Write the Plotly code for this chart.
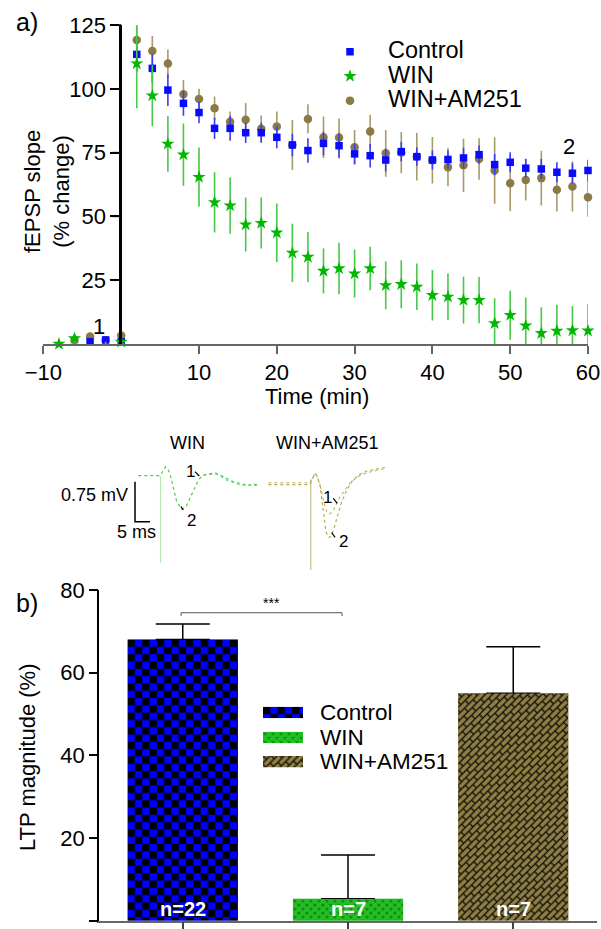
import base64
import plotly.graph_objects as go

W, H = 601, 929
FONT = "Liberation Sans, Arial, sans-serif"

# ---------------- data: panel a ----------------
time_min = [-8, -6, -4, -2, 0, 2, 4, 6, 8, 10, 12, 14, 16, 18, 20, 22, 24, 26, 28, 30,
            32, 34, 36, 38, 40, 42, 44, 46, 48, 50, 52, 54, 56, 58, 60]
control_mean = [-1.7, -1.7, 0.9, 1.6, 0.9,
                113.5, 108, 99.5, 94.3, 90.7, 84.5, 84.5, 82.8, 82.8, 81, 78,
                75.8, 78.6, 77.7, 74.5, 73.8, 72.1, 75.4, 73.4, 72.1, 72.3, 72.9, 74.2,
                70.3, 71.2, 68.9, 68.6, 67.3, 66.9, 68]
control_err = [1, 1, 1, 1, 1,
               6.8, 5.5, 6.2, 4.9, 4.2, 4.2, 4.9, 4, 3.9, 4.3, 4.4,
               4.8, 4.6, 4.9, 4.1, 4.6, 4.5, 3.9, 3.6, 3.7, 3.5, 4, 3.6,
               4.2, 3.9, 3.7, 3.9, 3.9, 3.9, 4.2]
win_mean = [0, 2.2, -1.7, -0.6, 0.8,
            109.9, 97.3, 78.4, 74.2, 65.4, 55.5, 54.2, 46.8, 47.4, 43.6, 35.7,
            34.1, 28.6, 29.6, 27.6, 29.6, 23, 23.4, 22.4, 19.1, 18.5, 17.2, 17.2,
            8.1, 11.3, 7.2, 4.2, 5.1, 5.3, 5.2]
win_err = [1.5, 1.5, 1.5, 1.5, 1.5,
           17.5, 12, 10.9, 12.2, 11.6, 11.8, 11, 10.6, 10, 11.5, 11.4,
           9.8, 8.8, 10.1, 9.4, 8.5, 9.4, 9.4, 9.1, 9.9, 9.1, 9.2, 9.1,
           9.8, 9.6, 11, 10.2, 10.3, 9.6, 10.5]
am_mean = [-0.5, 1.6, 2.9, 1.5, 3.3,
           119.1, 114.8, 109.9, 97.9, 96, 92.4, 87.1, 87.9, 84.3, 85.2, 78,
           88.2, 81, 80.9, 77.1, 83.3, 74.7, 75, 73.4, 72, 69.3, 70, 72.5,
           68, 63, 64.3, 65, 60.4, 61.7, 57.5]
am_err = [1, 1, 1.5, 1, 1.5,
          5, 5.9, 5.5, 5.5, 4, 4.6, 4, 6.5, 5.2, 5.9, 9.8,
          5.7, 8.1, 7.5, 6.8, 6.5, 9.2, 8.1, 9.3, 9.1, 7.5, 10.4, 8.1,
          13, 11, 8.1, 10.7, 8.5, 9.8, 7.6]
x_ticks_a = [-10, 10, 20, 30, 40, 50, 60]
y_ticks_a = [25, 50, 75, 100, 125]
y_range_a = [0, 125]

# ---------------- data: inset traces (ms, mV) ----------------
win_t = [12.77, 20.0, 21.9, 22.77, 23.57, 24.43, 25.57, 27.23, 28.67, 30.0, 31.43, 32.77,
         34.43, 36.67, 38.33, 40.0, 42.23, 44.43, 46.67, 48.9, 51.1, 52.77]
win_v = [1.956, 1.956, 2.124, 2.062, 1.938, 1.719, 1.468, 1.326, 1.374, 1.532, 1.719, 1.875,
         1.969, 1.988, 2.012, 1.969, 1.907, 1.843, 1.813, 1.763, 1.80, 1.781]
win_t2 = [34.43, 36.67, 38.33, 40.0, 42.23, 44.43, 46.67, 48.9, 51.1, 52.77]
win_v2 = [1.96, 1.97, 1.99, 1.95, 1.87, 1.83, 1.78, 1.80, 1.76, 1.79]
win_art_t = [20.17, 20.17]
win_art_v = [1.95, 0.32]
am1_t = [56.1, 70.0, 71.67, 72.43, 73.33, 74.43, 75.57, 76.43, 77.57, 78.67, 80.0, 81.67,
         83.33, 85.57, 87.77, 91.1, 95.33]
am1_v = [1.824, 1.824, 2.0, 1.938, 1.781, 1.5, 1.281, 1.238, 1.281, 1.406, 1.562, 1.688,
         1.813, 1.926, 1.988, 2.044, 2.094]
am2_t = [56.1, 70.0, 71.67, 72.43, 73.33, 73.9, 74.67, 75.33, 76.1, 77.0, 78.0, 79.1, 80.57,
         82.0, 83.9, 86.1, 88.9, 92.23, 95.33]
am2_v = [1.79, 1.79, 2.0, 1.938, 1.781, 1.562, 1.187, 0.906, 0.801, 0.812, 0.969, 1.187, 1.468,
         1.656, 1.843, 1.969, 2.044, 2.081, 2.113]
am_art_t = [70.23, 70.23]
am_art_v = [1.88, 0.19]
scale_ms = 5
scale_mv = 0.75
scale_t0 = 11.67
scale_v0 = 1.093

# ---------------- data: panel b ----------------
groups = ["Control", "WIN", "WIN+AM251"]
ltp_mean = [68.0, 5.3, 55.0]
ltp_sem = [3.8, 10.6, 11.3]
n_cells = [22, 7, 7]
y_ticks_b = [0, 20, 40, 60, 80]

# ---------------- styling ----------------
BLUE = "#0a0aff"
GREEN = "#00b800"
BROWN = "#8a7a45"
BAR_W = 0.667
YAX_A_X = 121.2          # pixel x where the panel-a y axis sits (time = 0)
A_Y0, A_Y1 = 344.0, 25.0  # pixel y of panel-a y-range bottom/top


def px(x):
    return x / W


def py(y):
    return 1 - y / H


def a_val_to_paper(v):
    frac = (v - y_range_a[0]) / (y_range_a[1] - y_range_a[0])
    return py(A_Y0) + frac * (py(A_Y1) - py(A_Y0))


# pixel geometry of panel b (for texture image sizes)
B_X0, B_X1, B_XR = 99.3, 596.7, (-0.505, 2.505)
B_Y0, B_Y1 = 920.7, 590.0
PX_PER_CAT = (B_X1 - B_X0) / (B_XR[1] - B_XR[0])
PX_PER_PCT = (B_Y0 - B_Y1) / 80.0


def texture_uri(kind, w, h):
    if kind == 0:
        pat = ('<pattern id="p" width="14.6" height="14.6" patternUnits="userSpaceOnUse">'
               '<rect width="14.6" height="14.6" fill="#0000ff"/>'
               '<rect width="7.3" height="7.3" fill="#000"/>'
               '<rect x="7.3" y="7.3" width="7.3" height="7.3" fill="#000"/></pattern>')
    elif kind == 1:
        pat = ('<pattern id="p" width="8" height="8" patternUnits="userSpaceOnUse">'
               '<rect width="8" height="8" fill="#1ec41e"/>'
               '<path d="M0.6,1 L2,3.3 L3.4,1 M4.6,5 L6,7.3 L7.4,5" stroke="#2d5a2d" '
               'stroke-width="0.9" fill="none"/></pattern>')
    else:
        pat = ('<pattern id="p" width="12" height="10" patternUnits="userSpaceOnUse" '
               'patternTransform="rotate(-45)">'
               '<rect width="12" height="10" fill="#141208"/>'
               '<rect x="0.7" y="0.7" width="10.6" height="3.6" fill="#8f7f45"/>'
               '<rect x="6.7" y="5.7" width="10.6" height="3.6" fill="#8f7f45"/>'
               '<rect x="-5.3" y="5.7" width="10.6" height="3.6" fill="#8f7f45"/></pattern>')
    svg = (f'<svg xmlns="http://www.w3.org/2000/svg" width="{w:.1f}" height="{h:.1f}" '
           f'viewBox="0 0 {w:.1f} {h:.1f}" preserveAspectRatio="none"><defs>{pat}</defs>'
           f'<rect width="{w:.1f}" height="{h:.1f}" fill="url(#p)"/></svg>')
    return "data:image/svg+xml;base64," + base64.b64encode(svg.encode()).decode()


fig = go.Figure()

# ---- panel a traces ----
def lname(s):
    return f'<span style="font-size:23.5px">{s}</span>'

fig.add_trace(go.Scatter(
    x=time_min, y=am_mean, mode="markers", name=lname("WIN+AM251"), legendrank=3,
    marker=dict(symbol="circle", size=8.5, color=BROWN),
    error_y=dict(type="data", array=am_err, color="#a8996a", thickness=1.6, width=0),
    cliponaxis=False, xaxis="x", yaxis="y"))
fig.add_trace(go.Scatter(
    x=time_min, y=control_mean, mode="markers", name=lname("Control"), legendrank=1,
    marker=dict(symbol="square", size=7.5, color=BLUE),
    error_y=dict(type="data", array=control_err, color="#3d3df0", thickness=1.6, width=0),
    cliponaxis=False, xaxis="x", yaxis="y"))
fig.add_trace(go.Scatter(
    x=time_min, y=win_mean, mode="markers", name=lname("WIN"), legendrank=2,
    marker=dict(symbol="star", size=10, color=GREEN),
    error_y=dict(type="data", array=win_err, color="#48c848", thickness=1.6, width=0),
    cliponaxis=False, xaxis="x", yaxis="y"))
# empty helper trace so the y-axis labels can sit at time = 0 (anchor axis x4)
fig.add_trace(go.Scatter(x=[None], y=[None], xaxis="x4", yaxis="y", showlegend=False,
                         hoverinfo="skip"))

# ---- inset traces ----
inset_line = dict(xaxis="x3", yaxis="y3", mode="lines", showlegend=False, hoverinfo="skip")
fig.add_trace(go.Scatter(x=win_art_t, y=win_art_v, line=dict(color="#b5eab5", width=1.2), **inset_line))
fig.add_trace(go.Scatter(x=win_t2, y=win_v2, line=dict(color="#74d874", width=1.1, dash="dot"), **inset_line))
fig.add_trace(go.Scatter(x=win_t, y=win_v, line=dict(color="#4ccb4c", width=1.2, dash="dot"), **inset_line))
fig.add_trace(go.Scatter(x=am_art_t, y=am_art_v, line=dict(color="#cdc79c", width=1.4), **inset_line))
fig.add_trace(go.Scatter(x=am1_t, y=am1_v, line=dict(color="#bdb56a", width=1.1, dash="dot"), **inset_line))
fig.add_trace(go.Scatter(x=am2_t, y=am2_v, line=dict(color="#b3ab55", width=1.2, dash="dot"), **inset_line))
fig.add_trace(go.Scatter(x=[scale_t0, scale_t0, scale_t0 + scale_ms],
                         y=[scale_v0 + scale_mv, scale_v0, scale_v0],
                         line=dict(color="black", width=1.5), **inset_line))

# ---- panel b bars ----
bar_x = list(range(len(groups)))
fig.add_trace(go.Bar(
    x=bar_x, y=ltp_mean, width=BAR_W, marker=dict(color=["#0000c0", "#1ec41e", "#8f7f45"], line=dict(width=0)),
    error_y=dict(type="data", array=ltp_sem, arrayminus=[0] * len(groups), symmetric=False,
                 color="black", thickness=1.5, width=27),
    showlegend=False, xaxis="x2", yaxis="y2", hoverinfo="skip"))

images = []
for i, v in enumerate(ltp_mean):
    images.append(dict(source=texture_uri(i, BAR_W * PX_PER_CAT, v * PX_PER_PCT),
                       xref="x2", yref="y2", x=bar_x[i] - BAR_W / 2, y=v,
                       sizex=BAR_W, sizey=v, xanchor="left", yanchor="top",
                       sizing="stretch", layer="above"))
# bar legend swatches
LEG_B_X, LEG_B_W, LEG_B_H = 263, 40, 11.6
LEG_B_Y = [712.5, 737.5, 761.7]
for i, yc in enumerate(LEG_B_Y):
    images.append(dict(source=texture_uri(i, LEG_B_W, LEG_B_H), xref="paper", yref="paper",
                       x=px(LEG_B_X), y=py(yc - LEG_B_H / 2), sizex=LEG_B_W / W, sizey=LEG_B_H / H,
                       xanchor="left", yanchor="top", sizing="stretch", layer="above"))

annotations = []
for i, g in enumerate(groups):
    annotations.append(dict(xref="paper", yref="paper", x=px(318), y=py(LEG_B_Y[i]), text=g,
                            showarrow=False, xanchor="left", yanchor="middle",
                            font=dict(family=FONT, size=22.5, color="black")))
for i, n in enumerate(n_cells):
    annotations.append(dict(xref="x2", yref="y2", x=bar_x[i], y=0, text=f"<b>n={n}</b>",
                            showarrow=False, xanchor="center", yanchor="bottom", yshift=-1,
                            font=dict(family=FONT, size=20, color="white")))

def ann(x, y, text, size=22, xa="center", ya="middle", angle=0):
    annotations.append(dict(xref="paper", yref="paper", x=px(x), y=py(y), text=text,
                            showarrow=False, xanchor=xa, yanchor=ya, textangle=angle,
                            font=dict(family=FONT, size=size, color="black")))

ann(27, 22, "a)", 25)
ann(27, 603, "b)", 25)
ann(47, 192, "fEPSP slope<br>(% change)", 22, angle=-90)
ann(316.7, 397, "Time (min)", 22)
ann(27, 757, "LTP magnitude (%)", 22, angle=-90)
ann(271.7, 603, "***", 14)
# inset labels
ann(187, 443, "WIN", 18)
ann(327, 443, "WIN+AM251", 18)
ann(130, 495, "0.75 mV", 18, xa="right")
ann(136, 532, "5 ms", 18)
ann(190.3, 471, "1", 17)
ann(191.3, 520, "2", 17)
ann(327.8, 497.5, "1", 17)
ann(343.3, 541.7, "2", 17)
# point labels in panel a
annotations.append(dict(xref="x", yref="y", x=-2.9, y=6.8, text="1", showarrow=False,
                        font=dict(family=FONT, size=22, color="black")))
annotations.append(dict(xref="x", yref="y", x=57.6, y=77.5, text="2", showarrow=False,
                        font=dict(family=FONT, size=22, color="black")))

shapes = []
def seg(x0, y0, x1, y1, w=1.2, c="black"):
    shapes.append(dict(type="line", xref="paper", yref="paper", x0=px(x0), y0=py(y0),
                       x1=px(x1), y1=py(y1), line=dict(color=c, width=w)))

seg(195, 471.7, 199.3, 476)
seg(181, 506.7, 183.3, 510)
seg(333.3, 498.3, 337.3, 503.3)
seg(331.7, 532.7, 335, 537.3)
# panel-a y-axis line and tick marks (the axis sits at time = 0)
shapes.append(dict(type="line", xref="paper", yref="paper", x0=px(YAX_A_X), x1=px(YAX_A_X),
                   y0=a_val_to_paper(y_range_a[0]), y1=a_val_to_paper(y_range_a[1]),
                   line=dict(color="black", width=1.5)))
for v in y_ticks_a:
    yy = a_val_to_paper(v)
    shapes.append(dict(type="line", xref="paper", yref="paper", x0=px(YAX_A_X - 9),
                       x1=px(YAX_A_X), y0=yy, y1=yy, line=dict(color="black", width=1.5)))
# significance bracket
shapes.append(dict(type="path", xref="x2", yref="y2",
                   path="M -0.01,73.7 L -0.01,74.5 L 0.964,74.5 L 0.964,73.7",
                   line=dict(color="#555", width=1)))

axis_common = dict(showgrid=False, zeroline=False, automargin=False,
                   tickfont=dict(family=FONT, size=22, color="black"))

fig.update_layout(
    template="none",
    width=W, height=H,
    margin=dict(l=0, r=0, t=0, b=0),
    paper_bgcolor="white", plot_bgcolor="rgba(0,0,0,0)",
    font=dict(family=FONT, color="black"),
    xaxis=dict(domain=[px(43.4), px(588)], range=[-10, 60], anchor="y",
               showline=True, linecolor="#666", linewidth=1.5,
               ticks="outside", ticklen=8, tickwidth=1.5, tickcolor="#666",
               tickvals=x_ticks_a, showgrid=False, automargin=False,
               zeroline=True, zerolinecolor="black", zerolinewidth=1.5,
               tickfont=dict(family=FONT, size=22, color="black")),
    xaxis4=dict(domain=[px(YAX_A_X), px(588)], range=[0, 60], anchor="y", visible=True,
                showline=False, showticklabels=False, ticks="", showgrid=False, zeroline=False),
    yaxis=dict(domain=[py(A_Y0), py(A_Y1)], range=y_range_a, anchor="x4",
               showline=True, linecolor="black", linewidth=1.5,
               ticks="outside", ticklen=9, tickwidth=1.5, tickcolor="black",
               tickvals=y_ticks_a, **axis_common),
    xaxis2=dict(domain=[px(B_X0), px(B_X1)], range=list(B_XR), anchor="y2",
                showline=True, linecolor="#666", linewidth=1.5,
                ticks="outside", ticklen=8, tickwidth=1.5, tickcolor="#444",
                tickvals=bar_x, showticklabels=False, **axis_common),
    yaxis2=dict(domain=[py(B_Y0), py(B_Y1)], range=[0, 80], anchor="x2",
                showline=True, linecolor="black", linewidth=1.5,
                ticks="outside", ticklen=8.5, tickwidth=1.5, tickcolor="black",
                tickvals=y_ticks_b, **axis_common),
    xaxis3=dict(domain=[px(100), px(400)], range=[0, 100], visible=False, anchor="y3"),
    yaxis3=dict(domain=[py(580), py(440)], range=[0, 2.625], visible=False, anchor="x3"),
    showlegend=True,
    legend=dict(x=px(312), y=py(34.5), xanchor="left", yanchor="top", itemwidth=66,
                bgcolor="rgba(0,0,0,0)", borderwidth=0,
                font=dict(family=FONT, size=16.5, color="black"), traceorder="normal"),
    images=images,
    annotations=annotations,
    shapes=shapes,
    barmode="overlay",
)

fig.write_html("out.html", config={"displayModeBar": False})
